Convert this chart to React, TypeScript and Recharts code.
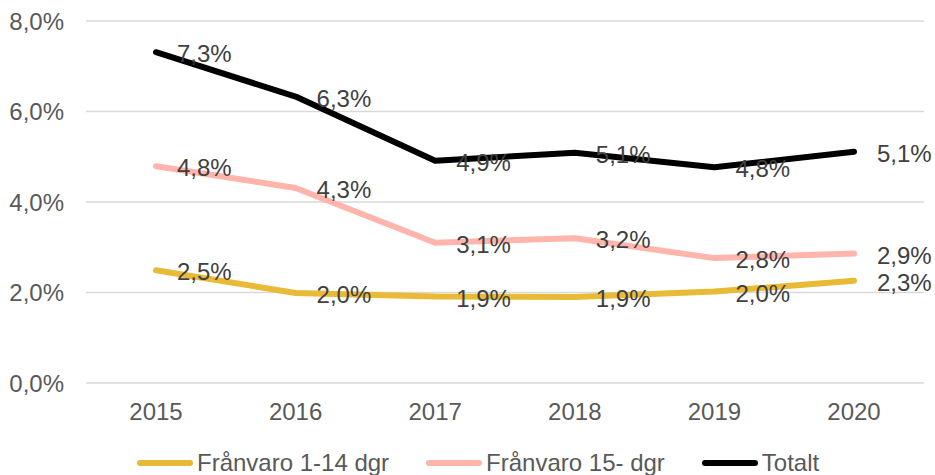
import React from 'react';
import { LineChart, Line, XAxis, YAxis, CartesianGrid, Legend, LabelList } from 'recharts';

const years = ['2015', '2016', '2017', '2018', '2019', '2020'];
const franvaro1to14 = [2.49, 1.99, 1.91, 1.9, 2.02, 2.26];
const franvaro15 = [4.79, 4.31, 3.1, 3.2, 2.76, 2.86];
const totalt = [7.31, 6.33, 4.91, 5.09, 4.77, 5.11];
const yTicks = [0, 2, 4, 6, 8];

const seriesNames = ['Frånvaro 1-14 dgr', 'Frånvaro 15- dgr', 'Totalt'];
const seriesColors = ['#E8BA36', '#FFB4AC', '#000000'];
const seriesKeys = ['a', 'b', 'c'];

const data = years.map((y, i) => ({
  year: y,
  a: franvaro1to14[i],
  b: franvaro15[i],
  c: totalt[i],
}));

const FONT = '"Liberation Sans", Arial, sans-serif';
const fmt = (v: number) => `${v.toFixed(1).replace('.', ',')}%`;

const renderLabel = (props: any) => {
  const { x, y, value, index } = props;
  if (x == null || y == null || value == null) return null;
  const dx = index === years.length - 1 ? 23 : 21;
  return (
    <text x={x + dx} y={y + 10} fill="#404040" fontSize={24} fontFamily={FONT} textAnchor="start">
      {fmt(Number(value))}
    </text>
  );
};

const LegendContent = () => (
  <div style={{ display: 'flex', alignItems: 'center', marginLeft: 137, fontFamily: FONT, fontSize: 24, color: '#595959', lineHeight: '28px' }}>
    {seriesNames.map((n, i) => (
      <div key={n} style={{ display: 'flex', alignItems: 'center', marginRight: 37 }}>
        <div style={{ width: 56, height: 6, borderRadius: 3, background: seriesColors[i], marginRight: 4 }} />
        <span>{n}</span>
      </div>
    ))}
  </div>
);

export default function App() {
  return (
    <div style={{ position: 'absolute', left: 0, top: 0, width: 935, height: 475, background: '#fff' }}>
      <LineChart width={935} height={475} data={data} margin={{ top: 21, right: 11, left: 0, bottom: 24 }}>
        <CartesianGrid horizontal vertical={false} stroke="#D9D9D9" strokeWidth={1.5} />
        <XAxis
          dataKey="year"
          axisLine={false}
          tickLine={false}
          tickSize={0}
          tickMargin={20}
          height={40}
          padding={{ left: 70, right: 70 }}
          tick={{ fill: '#595959', fontSize: 24, fontFamily: FONT }}
        />
        <YAxis
          domain={[0, 8]}
          ticks={yTicks}
          axisLine={false}
          tickLine={false}
          tickSize={0}
          tickMargin={22}
          width={86}
          tickFormatter={fmt}
          tick={{ fill: '#595959', fontSize: 24, fontFamily: FONT }}
        />
        <Legend
          verticalAlign="bottom"
          content={<LegendContent />}
          wrapperStyle={{ left: 0, top: 449, width: 935, height: 28 }}
        />
        {seriesKeys.map((k, i) => (
          <Line
            key={k}
            dataKey={k}
            name={seriesNames[i]}
            stroke={seriesColors[i]}
            strokeWidth={6}
            strokeLinejoin="round"
            strokeLinecap="round"
            dot={false}
            activeDot={false}
            type="linear"
            isAnimationActive={false}
          >
            <LabelList dataKey={k} content={renderLabel} />
          </Line>
        ))}
      </LineChart>
    </div>
  );
}
